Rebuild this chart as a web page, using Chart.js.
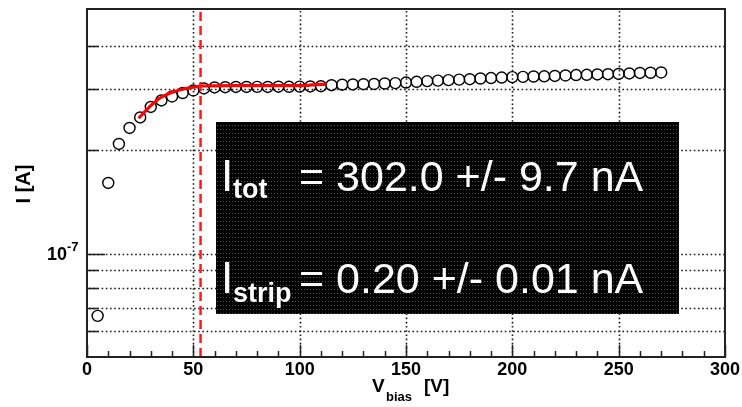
<!DOCTYPE html>
<html><head><meta charset="utf-8">
<script src="https://cdn.jsdelivr.net/npm/chart.js@4"></script>
<style>html,body{margin:0;padding:0;background:#fff;overflow:hidden}#wrap{width:742px;height:407px}</style>
</head><body><div id="wrap"><canvas id="c" width="742" height="407"></canvas></div>
<script>
// ---- data ----
const biasVoltage = [5,10,15,20,25,30,35,40,45,50,55,60,65,70,75,80,85,90,95,100,105,110,115,120,125,130,135,140,145,150,155,160,165,170,175,180,185,190,195,200,205,210,215,220,225,230,235,240,245,250,255,260,265,270];
const current = [6.65e-8,1.607e-7,2.082e-7,2.315e-7,2.482e-7,2.662e-7,2.779e-7,2.853e-7,2.920e-7,2.969e-7,3.009e-7,3.029e-7,3.035e-7,3.039e-7,3.040e-7,3.042e-7,3.040e-7,3.045e-7,3.043e-7,3.046e-7,3.050e-7,3.055e-7,3.075e-7,3.085e-7,3.090e-7,3.095e-7,3.100e-7,3.110e-7,3.118e-7,3.130e-7,3.145e-7,3.160e-7,3.170e-7,3.180e-7,3.190e-7,3.200e-7,3.215e-7,3.225e-7,3.235e-7,3.245e-7,3.250e-7,3.258e-7,3.262e-7,3.270e-7,3.280e-7,3.290e-7,3.295e-7,3.302e-7,3.308e-7,3.313e-7,3.325e-7,3.335e-7,3.340e-7,3.346e-7];
const fitVoltage = [24.3,27,29.5,32,34.2,36.5,38.9,41,43.6,46.5,49.9,54.6,60,70,80,90,100,104,108,112.7];
const fitCurrent = [2.469e-7,2.57e-7,2.667e-7,2.75e-7,2.819e-7,2.87e-7,2.915e-7,2.945e-7,2.979e-7,3.008e-7,3.033e-7,3.059e-7,3.063e-7,3.065e-7,3.066e-7,3.066e-7,3.067e-7,3.072e-7,3.088e-7,3.095e-7];
const depletionVoltage = [53.4];
const xRange = [0, 300];
const yRange = [5.06e-8, 5.1e-7];
const xMajorTicks = [0,50,100,150,200,250,300];
const yTickValues = [6e-8,7e-8,8e-8,9e-8,1e-7,2e-7,3e-7,4e-7];
const yLabelledTick = [1e-7];
const resultNames = ['tot','strip'];
const resultTexts = ['= 302.0 +/- 9.7 nA','= 0.20 +/- 0.01 nA'];

const FONT = "'Liberation Sans', Arial, Helvetica, sans-serif";
const dataPts = biasVoltage.map((v,i)=>({x:v,y:current[i]}));
const fitPts = fitVoltage.map((v,i)=>({x:v,y:fitCurrent[i]}));
const depPts = [{x:depletionVoltage[0],y:yRange[0]},{x:depletionVoltage[0],y:yRange[1]}];

function makePattern(c){
  const p = document.createElement('canvas'); p.width=3; p.height=4;
  const g = p.getContext('2d');
  g.fillStyle='#000'; g.fillRect(0,0,3,4);
  g.fillStyle='#5a5a5a'; g.fillRect(1,1,1,1);
  return c.createPattern(p,'repeat');
}

const decor = {
  id:'decor',
  beforeDatasetsDraw(chart){
    const c = chart.ctx, a = chart.chartArea;
    const xs = chart.scales.x, ys = chart.scales.y;
    c.save();
    c.strokeStyle='#1a1a1a';
    c.lineWidth=1.6;
    c.setLineDash([1.6,2.6]);
    c.beginPath();
    xMajorTicks.forEach(v=>{
      if(v<=xRange[0]||v>=xRange[1]) return;
      const px = Math.round(xs.getPixelForValue(v))+0.5;
      c.moveTo(px,a.top+2); c.lineTo(px,a.bottom);
    });
    yTickValues.forEach(v=>{
      const py = Math.round(ys.getPixelForValue(v))+0.5;
      c.moveTo(a.left+2,py); c.lineTo(a.right,py);
    });
    c.stroke();
    c.restore();
  },
  afterDatasetsDraw(chart){
    const c = chart.ctx;
    c.save();
    c.fillStyle = makePattern(c);
    c.fillRect(216,122,463,192);
    c.fillStyle='#fff';
    c.textAlign='left'; c.textBaseline='alphabetic';
    const base = [191,293], subBase=[198,302];
    for(let i=0;i<2;i++){
      c.font = '44px '+FONT;
      c.fillText('I',221,base[i]);
      c.font = 'bold 27px '+FONT;
      c.fillText(resultNames[i],233,subBase[i]);
      c.font = '43px '+FONT;
      c.fillText(resultTexts[i],299,base[i]);
    }
    c.restore();
  },
  afterDraw(chart){
    const c = chart.ctx, a = chart.chartArea;
    const xs = chart.scales.x, ys = chart.scales.y;
    c.save();
    c.strokeStyle='#222'; c.lineWidth=1.5;
    c.beginPath();
    for(let v=xRange[0]; v<=xRange[1]; v+=10){
      const px = Math.round(xs.getPixelForValue(v))+0.5;
      const len = xMajorTicks.includes(v)?12:6;
      c.moveTo(px,a.bottom); c.lineTo(px,a.bottom-len);
    }
    yTickValues.forEach(v=>{
      const py = Math.round(ys.getPixelForValue(v))+0.5;
      const len = yLabelledTick.includes(v)?18:11;
      c.moveTo(a.left,py); c.lineTo(a.left+len,py);
    });
    c.stroke();
    c.strokeStyle='#222'; c.lineWidth=2;
    c.strokeRect(a.left,a.top,a.right-a.left,a.bottom-a.top);
    c.fillStyle='#000';
    const py = ys.getPixelForValue(yLabelledTick[0]);
    c.textBaseline='alphabetic';
    c.textAlign='right';
    c.font='bold 18px '+FONT;
    c.fillText('10',67,py+6);
    c.textAlign='left';
    c.font='bold 13px '+FONT;
    c.fillText('-7',67,py-3);
    c.save();
    c.translate(30,184); c.rotate(-Math.PI/2);
    c.textAlign='center'; c.font='bold 20px '+FONT;
    c.fillText('I [A]',0,0);
    c.restore();
    c.textAlign='left';
    c.font='bold 19px '+FONT;
    c.fillText('V',372,392);
    c.font='bold 13px '+FONT;
    c.fillText('bias',386,401);
    c.font='bold 19px '+FONT;
    c.fillText('[V]',424,392);
    c.restore();
  }
};

new Chart(document.getElementById('c'),{
  type:'scatter',
  data:{datasets:[
    {label:'I-V data',data:dataPts,showLine:false,pointStyle:'circle',pointRadius:5.5,pointHoverRadius:5.5,
     borderColor:'#000',backgroundColor:'rgba(0,0,0,0)',pointBorderWidth:1.4,order:2},
    {label:'fit',type:'line',data:fitPts,borderColor:'#ff0000',borderWidth:3.2,pointRadius:0,
     cubicInterpolationMode:'monotone',fill:false,order:1},
    {label:'V_dep',type:'line',data:depPts,borderColor:'#ff1a1a',borderWidth:2.5,borderDash:[9,5],
     pointRadius:0,fill:false,order:0}
  ]},
  options:{
    responsive:false,animation:false,devicePixelRatio:1,
    layout:{padding:{left:0,right:17,top:9,bottom:0}},
    plugins:{legend:{display:false},tooltip:{enabled:false}},
    scales:{
      x:{type:'linear',min:xRange[0],max:xRange[1],
         afterFit(s){s.height=50;},
         afterBuildTicks(s){const t=[];for(let v=xRange[0];v<=xRange[1];v+=10)t.push({value:v});s.ticks=t;},
         ticks:{autoSkip:false,maxRotation:0,padding:2,color:'#000',
                font:{family:FONT,size:18,weight:'bold'},
                callback:v=>xMajorTicks.includes(v)?String(v):''},
         grid:{display:true,drawTicks:false,drawOnChartArea:false,color:'rgba(0,0,0,0)'},
         border:{display:false}},
      y:{type:'logarithmic',min:yRange[0],max:yRange[1],
         afterFit(s){s.width=87;},
         afterBuildTicks(s){s.ticks=yTickValues.map(v=>({value:v}));},
         ticks:{display:false},
         grid:{display:true,drawTicks:false,drawOnChartArea:false,color:'rgba(0,0,0,0)'},
         border:{display:false}}
    }
  },
  plugins:[decor]
});
</script></body></html>
